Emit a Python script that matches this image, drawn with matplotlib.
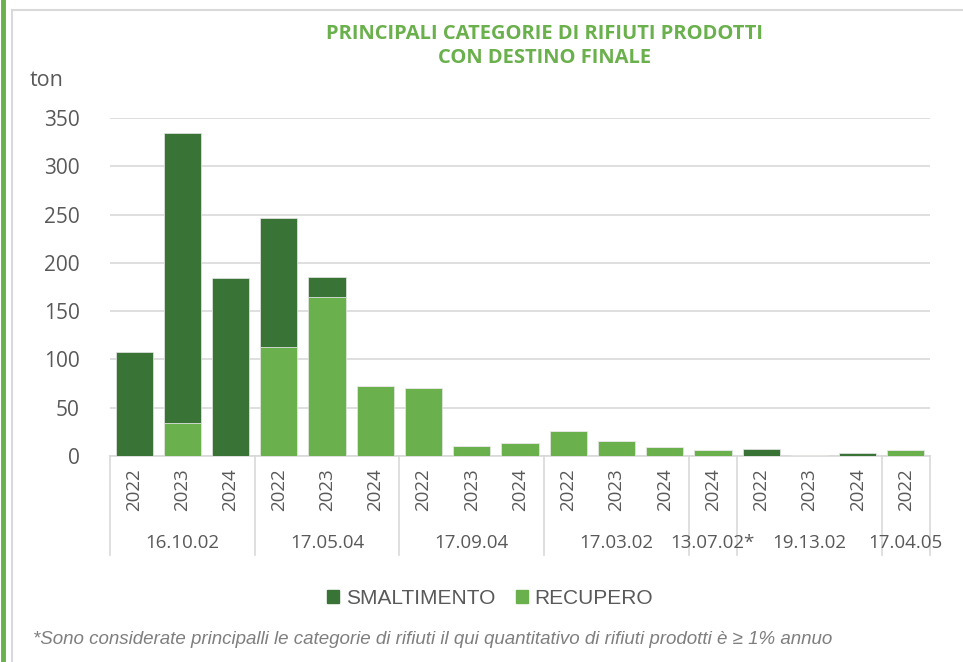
import matplotlib.pyplot as plt
from matplotlib.lines import Line2D
from matplotlib.patches import Patch
import matplotlib.transforms as mtransforms

years = ['2022', '2023', '2024', '2022', '2023', '2024', '2022', '2023', '2024',
         '2022', '2023', '2024', '2024', '2022', '2023', '2024', '2022']
smaltimento = [108, 300, 184, 133, 20, 0, 0, 0, 0, 0, 0, 0, 0, 7.5, 0, 3.5, 0]
recupero = [0, 34, 0, 113, 165, 73, 70, 10, 13, 26, 15.5, 9, 6, 0, 1, 0, 6]
groups = ['16.10.02', '17.05.04', '17.09.04', '17.03.02', '13.07.02*', '19.13.02', '17.04.05']
group_sizes = [3, 3, 3, 3, 1, 3, 1]

dark = '#3a7336'
light = '#6ab04c'
grey = '#595959'
grid = '#d9d9d9'
font = 'Open Sans'

fig = plt.figure(figsize=(9.63, 6.62), dpi=100)
ax = fig.add_axes([110 / 963, 1 - 456 / 662, 820 / 963, 338 / 662])

x = list(range(len(years)))
ax.bar(x, recupero, width=0.77, color=light, edgecolor='#e8e8e8', linewidth=0.5, zorder=3)
ax.bar(x, smaltimento, width=0.77, bottom=recupero, color=dark, edgecolor='#e8e8e8',
       linewidth=0.5, zorder=3)

ax.set_xlim(-0.5, len(years) - 0.5)
ax.set_ylim(0, 350)
ax.set_yticks(range(0, 351, 50))
ax.tick_params(axis='y', length=0, pad=22, labelsize=15, labelcolor=grey)
for lab in ax.get_yticklabels():
    lab.set_fontfamily(font)
ax.set_xticks([])
ax.yaxis.grid(True, color=grid, linewidth=1.2, zorder=0)
for s in ['top', 'right', 'left']:
    ax.spines[s].set_visible(False)
ax.spines['bottom'].set_color(grid)
ax.spines['bottom'].set_linewidth(1.2)

trans = mtransforms.blended_transform_factory(ax.transData, ax.transAxes)
for xi, yr in zip(x, years):
    ax.text(xi, -0.1, yr, rotation=90, ha='center', va='center', transform=trans,
            fontsize=13.5, color=grey, family=font)

start = -0.5
edges = [start]
for name, n in zip(groups, group_sizes):
    ax.text(start + n / 2, -0.257, name, ha='center', va='center', transform=trans,
            fontsize=13.5, color=grey, family=font)
    start += n
    edges.append(start)
for e in edges:
    ax.plot([e, e], [0, -0.293], color=grid, linewidth=1.2, transform=trans, clip_on=False)

fig.text(545 / 963, 1 - 46 / 662, 'PRINCIPALI CATEGORIE DI RIFIUTI PRODOTTI\nCON DESTINO FINALE',
         ha='center', va='center', fontsize=14.5, fontweight='bold', color=light,
         family=font, linespacing=1.3)
fig.text(30 / 963, 1 - 80 / 662, 'ton', ha='left', va='center', fontsize=15.5, color=grey,
         family=font)

handles = [Patch(color=dark, label='SMALTIMENTO'), Patch(color=light, label='RECUPERO')]
leg = fig.legend(handles=handles, loc='center', bbox_to_anchor=(490 / 963, 1 - 598 / 662),
                 ncol=2, frameon=False, handlelength=0.6, handleheight=0.6,
                 handletextpad=0.3, columnspacing=1.0,
                 prop={'family': ['Liberation Sans Narrow', 'Liberation Sans'], 'size': 15})
for t in leg.get_texts():
    t.set_color(grey)

fig.text(33 / 963, 1 - 640 / 662,
         '*Sono considerate principalli le categorie di rifiuti il qui quantitativo di rifiuti prodotti è ≥ 1% annuo',
         ha='left', va='center', fontsize=13.5, style='italic', color='#7f7f7f',
         family=['Liberation Sans Narrow', 'Liberation Sans', 'DejaVu Sans'])

# frame lines
fig.add_artist(Line2D([2.5 / 963, 2.5 / 963], [0, 1], color=light, linewidth=3.5))
fig.add_artist(Line2D([11.5 / 963, 11.5 / 963], [0, 1 - 10 / 662], color=grid, linewidth=1.5))
fig.add_artist(Line2D([11.5 / 963, 1], [1 - 10 / 662, 1 - 10 / 662], color=grid, linewidth=1.5))

fig.savefig('out.png', dpi=100)
